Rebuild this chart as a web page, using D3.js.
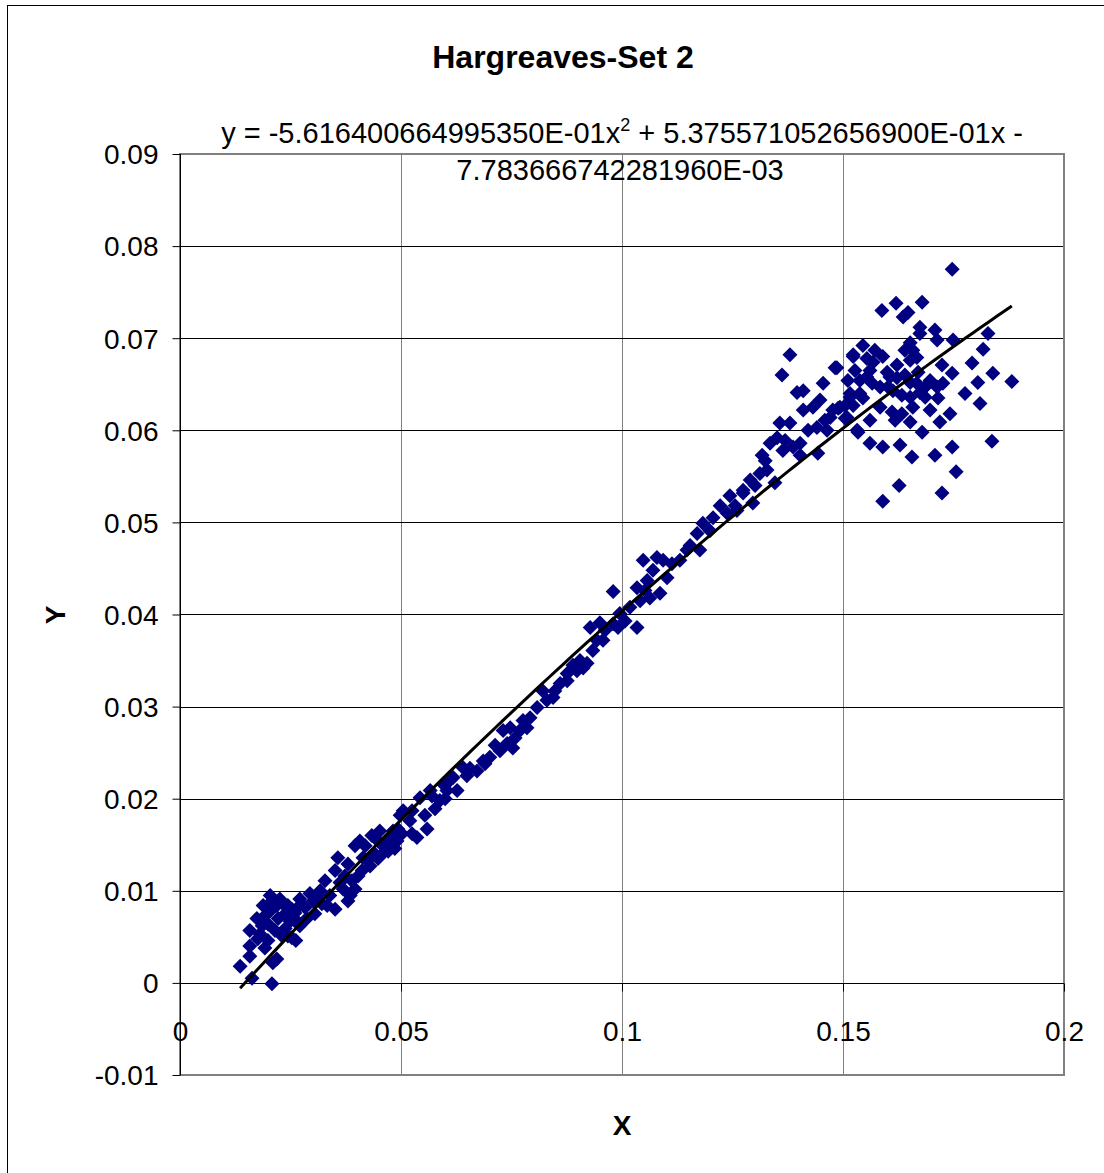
<!DOCTYPE html>
<html>
<head>
<meta charset="utf-8">
<script src="https://cdn.jsdelivr.net/npm/d3@7"></script>
<style>
  html, body { margin: 0; padding: 0; background: #fff; }
  text { font-family: "Liberation Sans", Arial, sans-serif; }
</style>
</head>
<body>
<svg id="chart" width="1104" height="1173"></svg>
<script>
// ---- Data ----
const chartTitle = "Hargreaves-Set 2";
const xTitle = "X";
const yTitle = "Y";
const xTicks = [0, 0.05, 0.1, 0.15, 0.2];
const xTickLabels = ["0", "0.05", "0.1", "0.15", "0.2"];
const yTicks = [-0.01, 0, 0.01, 0.02, 0.03, 0.04, 0.05, 0.06, 0.07, 0.08, 0.09];
const yTickLabels = ["-0.01", "0", "0.01", "0.02", "0.03", "0.04", "0.05", "0.06", "0.07", "0.08", "0.09"];
// polynomial trendline coefficients as printed on the chart: a*x^2 + b*x + c
const trendCoefs = [-5.616400664995350E-01, 5.375571052656900E-01, -7.783666742281960E-03];
const equationLine1 = ["y = -5.616400664995350E-01x", "2", " + 5.375571052656900E-01x -"];
const equationLine2 = "7.783666742281960E-03";

const xs = [
0.0136,0.0158,0.0158,0.0163,0.0208,0.0210,0.0219,0.0192,0.0176,0.0181,
0.0199,0.0219,0.0204,0.0238,0.0253,0.0265,0.0283,0.0305,0.0312,0.0333,
0.0351,0.0380,0.0396,0.0362,0.0351,0.0357,0.0380,0.0412,0.0396,0.0434,
0.0464,0.0486,0.0502,0.0525,0.0441,0.0414,0.0192,0.0208,0.0226,0.0244,
0.0260,0.0271,0.0238,0.0222,0.0186,0.0249,0.0215,0.0231,0.0199,0.0317,
0.0328,0.0301,0.0339,0.0419,0.0425,0.0448,0.0459,0.0475,0.0482,0.0452,
0.0471,0.0373,0.0389,0.0505,0.0520,0.0491,0.0536,0.0559,0.0566,0.0543,
0.0588,0.0595,0.0627,0.0618,0.0640,0.0672,0.0686,0.0701,0.0724,0.0740,
0.0753,0.0731,0.0747,0.0776,0.0792,0.0808,0.0830,0.0844,0.0860,0.0876,
0.0898,0.0921,0.0821,0.0498,0.0525,0.0554,0.0570,0.0604,0.0611,0.0649,
0.0713,0.0769,0.0876,0.0905,0.0934,0.0957,0.0928,0.0950,0.0980,0.0995,
0.0991,0.1034,0.1018,0.1041,0.0980,0.1034,0.1063,0.1086,0.1057,0.1070,
0.1048,0.1079,0.1093,0.1102,0.1131,0.1147,0.1176,0.1170,0.1183,0.1206,
0.1238,0.1260,0.1274,0.1296,0.0889,0.0943,0.1274,0.1290,0.1312,0.1328,
0.1346,0.1317,0.1335,0.1351,0.1357,0.1380,0.1364,0.1387,0.1403,0.1403,
0.1443,0.1410,0.1432,0.1448,0.1441,0.1464,0.1471,0.1477,0.1493,0.1396,
0.1410,0.1455,0.1362,0.1380,0.1482,0.1509,0.1516,0.1523,0.1527,0.1532,
0.1222,0.1244,0.1301,0.1747,0.1588,0.1620,0.1679,0.1636,0.1647,0.1674,
0.1674,0.1708,0.1713,0.1749,0.1828,0.1817,0.1545,0.1523,0.1486,0.1554,
0.1568,0.1590,0.1622,0.1640,0.1652,0.1658,0.1667,0.1652,0.1561,0.1554,
0.1600,0.1606,0.1622,0.1566,0.1584,0.1602,0.1652,0.1667,0.1686,0.1633,
0.1652,0.1674,0.1686,0.1713,0.1726,0.1715,0.1516,0.1538,0.1545,0.1523,
0.1489,0.1505,0.1584,0.1611,0.1633,0.1658,0.1652,0.1719,0.1742,0.1724,
0.1747,0.1792,0.1839,0.1882,0.1805,0.1776,0.1810,0.1534,0.1679,0.1561,
0.1590,0.1629,0.1656,0.1708,0.1747,0.1837,0.1756,0.1627,0.1724,0.1590,
0.0188,0.0204,0.0233,0.0253,0.0271,0.0287,0.0244,0.0262,0.0174,0.0158,
0.0271,0.0294,0.0321,0.0369,0.0385,0.0403,0.0430,0.0448,0.0407,0.0468,
0.0493,0.0577,0.0600,0.0656,0.0690,0.0758,0.0785,0.0848,0.0912,0.0962,
0.1007,0.1052,0.1113,0.1154,0.1199,0.1256,0.1324,0.1369,0.1421,0.1459,
0.1505,0.1572,0.1613,0.1640,0.1670,0.1697,0.1538,0.1511,0.1697,0.1618,
0.1561
];
const ys = [
0.0018,0.0029,0.0040,0.0005,-0.0001,0.0022,0.0026,0.0038,0.0048,0.0053,
0.0064,0.0084,0.0078,0.0075,0.0049,0.0067,0.0082,0.0075,0.0092,0.0084,
0.0080,0.0089,0.0102,0.0109,0.0122,0.0136,0.0129,0.0122,0.0149,0.0160,
0.0143,0.0146,0.0162,0.0162,0.0140,0.0136,0.0073,0.0089,0.0091,0.0084,
0.0076,0.0062,0.0059,0.0070,0.0062,0.0067,0.0057,0.0051,0.0046,0.0100,
0.0111,0.0089,0.0095,0.0149,0.0133,0.0154,0.0149,0.0157,0.0165,0.0165,
0.0143,0.0116,0.0111,0.0187,0.0176,0.0154,0.0158,0.0167,0.0209,0.0201,
0.0198,0.0216,0.0209,0.0223,0.0234,0.0230,0.0241,0.0245,0.0252,0.0260,
0.0255,0.0274,0.0277,0.0285,0.0288,0.0299,0.0307,0.0310,0.0325,0.0328,
0.0339,0.0347,0.0317,0.0182,0.0187,0.0182,0.0203,0.0209,0.0220,0.0225,
0.0258,0.0274,0.0336,0.0350,0.0361,0.0372,0.0386,0.0391,0.0390,0.0401,
0.0386,0.0386,0.0408,0.0415,0.0425,0.0429,0.0418,0.0423,0.0437,0.0448,
0.0459,0.0462,0.0459,0.0440,0.0459,0.0470,0.0470,0.0488,0.0499,0.0505,
0.0510,0.0513,0.0532,0.0521,0.0345,0.0372,0.0535,0.0546,0.0553,0.0557,
0.0543,0.0573,0.0586,0.0592,0.0608,0.0608,0.0578,0.0582,0.0586,0.0573,
0.0575,0.0622,0.0625,0.0633,0.0603,0.0600,0.0614,0.0622,0.0625,0.0641,
0.0643,0.0651,0.0660,0.0682,0.0668,0.0614,0.0640,0.0682,0.0665,0.0600,
0.0518,0.0529,0.0540,0.0775,0.0730,0.0738,0.0739,0.0723,0.0728,0.0712,
0.0705,0.0709,0.0698,0.0698,0.0705,0.0688,0.0692,0.0680,0.0668,0.0678,
0.0674,0.0680,0.0671,0.0687,0.0695,0.0687,0.0679,0.0676,0.0665,0.0658,
0.0663,0.0658,0.0657,0.0651,0.0647,0.0647,0.0652,0.0651,0.0647,0.0638,
0.0636,0.0641,0.0636,0.0647,0.0651,0.0635,0.0636,0.0640,0.0635,0.0627,
0.0624,0.0613,0.0625,0.0620,0.0618,0.0625,0.0609,0.0609,0.0618,0.0671,
0.0662,0.0673,0.0662,0.0653,0.0652,0.0640,0.0629,0.0598,0.0598,0.0586,
0.0582,0.0584,0.0571,0.0573,0.0582,0.0588,0.0555,0.0540,0.0532,0.0523,
0.0084,0.0095,0.0086,0.0080,0.0084,0.0070,0.0051,0.0046,0.0070,0.0057,
0.0091,0.0097,0.0086,0.0102,0.0095,0.0116,0.0127,0.0135,0.0154,0.0152,
0.0167,0.0189,0.0200,0.0233,0.0238,0.0266,0.0277,0.0317,0.0342,0.0383,
0.0393,0.0426,0.0455,0.0475,0.0491,0.0518,0.0567,0.0589,0.0600,0.0611,
0.0627,0.0687,0.0643,0.0660,0.0663,0.0654,0.0654,0.0654,0.0622,0.0611,
0.0611
];

// ---- Layout ----
const W = 1104, H = 1173;
const plot = { left: 180, right: 1064, top: 154, bottom: 1075 };
const svg = d3.select("#chart");
svg.append("rect").attr("width", W).attr("height", H).attr("fill", "#fff");

// outer chart border (only left & top visible in the crop)
svg.append("line").attr("x1", 7.5).attr("x2", 7.5).attr("y1", 5).attr("y2", H)
  .attr("stroke", "#000").attr("stroke-width", 1);
svg.append("line").attr("x1", 7).attr("x2", W).attr("y1", 5.5).attr("y2", 5.5)
  .attr("stroke", "#000").attr("stroke-width", 1);

const x = d3.scaleLinear().domain([0, 0.2]).range([plot.left, plot.right]);
const y = d3.scaleLinear().domain([-0.01, 0.09]).range([plot.bottom, plot.top]);

// vertical gridlines (gray)
svg.append("g").selectAll("line").data(xTicks.slice(1, -1)).join("line")
  .attr("x1", d => Math.round(x(d)) + 0.5).attr("x2", d => Math.round(x(d)) + 0.5)
  .attr("y1", plot.top).attr("y2", plot.bottom)
  .attr("stroke", "#808080").attr("stroke-width", 1);

// horizontal gridlines (black)
svg.append("g").selectAll("line").data(yTicks).join("line")
  .attr("x1", plot.left).attr("x2", plot.right)
  .attr("y1", d => Math.round(y(d)) + 0.5).attr("y2", d => Math.round(y(d)) + 0.5)
  .attr("stroke", "#000").attr("stroke-width", 1);

// plot-area border (gray)
svg.append("rect")
  .attr("x", plot.left).attr("y", plot.top)
  .attr("width", plot.right - plot.left).attr("height", plot.bottom - plot.top)
  .attr("fill", "none").attr("stroke", "#808080").attr("stroke-width", 2);

// Y axis (black line with outside ticks)
const yAxis = d3.axisLeft(y).tickValues(yTicks).tickSize(8)
  .tickFormat((d, i) => yTickLabels[i]).tickPadding(14);
const gy = svg.append("g").attr("transform", `translate(${plot.left + 0.5},0)`).call(yAxis);
gy.select(".domain").attr("stroke", "#000").attr("d", `M0,${plot.top}V${plot.bottom}`);
gy.selectAll(".tick line").attr("stroke", "#000");
gy.selectAll(".tick text").attr("font-size", 28).attr("fill", "#000")
  .attr("font-family", "'Liberation Sans', Arial, sans-serif").attr("dy", "0.35em");

// X axis crossing at y = 0, ticks downward, labels below
const xAxis = d3.axisBottom(x).tickValues(xTicks).tickSize(8)
  .tickFormat((d, i) => xTickLabels[i]).tickPadding(30);
const gx = svg.append("g").attr("transform", `translate(0,${Math.round(y(0)) + 0.5})`).call(xAxis);
gx.select(".domain").attr("stroke", "#000").attr("d", `M${plot.left},0H${plot.right}`);
gx.selectAll(".tick line").attr("stroke", "#000");
gx.selectAll(".tick text").attr("font-size", 28).attr("fill", "#000")
  .attr("font-family", "'Liberation Sans', Arial, sans-serif");

// scatter markers (navy diamonds)
const pts = xs.map((v, i) => ({ x: v, y: ys[i] }));
const r = 7.5;
svg.append("g").selectAll("path").data(pts).join("path")
  .attr("transform", d => `translate(${x(d.x)},${y(d.y)})`)
  .attr("d", `M0,${-r}L${r},0L0,${r}L${-r},0Z`)
  .attr("fill", "#000080");

// polynomial trendline over the data's x range
const [xmin, xmax] = d3.extent(xs);
const trendXs = d3.range(0, 101).map(i => xmin + (xmax - xmin) * i / 100);
const trendPts = trendXs.map(v => ({ x: v, y: trendCoefs[0] * v * v + trendCoefs[1] * v + trendCoefs[2] }));
svg.append("path").datum(trendPts)
  .attr("d", d3.line().x(d => x(d.x)).y(d => y(d.y)))
  .attr("fill", "none").attr("stroke", "#000").attr("stroke-width", 3);

// title
svg.append("text").attr("x", 563).attr("y", 68).attr("text-anchor", "middle")
  .attr("font-size", 32).attr("font-weight", "bold").text(chartTitle);

// equation label
const eq = svg.append("text").attr("x", 622).attr("y", 143).attr("text-anchor", "middle")
  .attr("font-size", 29);
eq.append("tspan").text(equationLine1[0]);
eq.append("tspan").attr("font-size", 18).attr("dy", -12).text(equationLine1[1]);
eq.append("tspan").attr("dy", 12).text(equationLine1[2]);
svg.append("text").attr("x", 620).attr("y", 180).attr("text-anchor", "middle")
  .attr("font-size", 29).text(equationLine2);

// axis titles
svg.append("text").attr("x", 622).attr("y", 1135).attr("text-anchor", "middle")
  .attr("font-size", 28).attr("font-weight", "bold").text(xTitle);
svg.append("text").attr("transform", "translate(65,615) rotate(-90)")
  .attr("text-anchor", "middle").attr("font-size", 28).attr("font-weight", "bold").text(yTitle);
</script>
</body>
</html>
